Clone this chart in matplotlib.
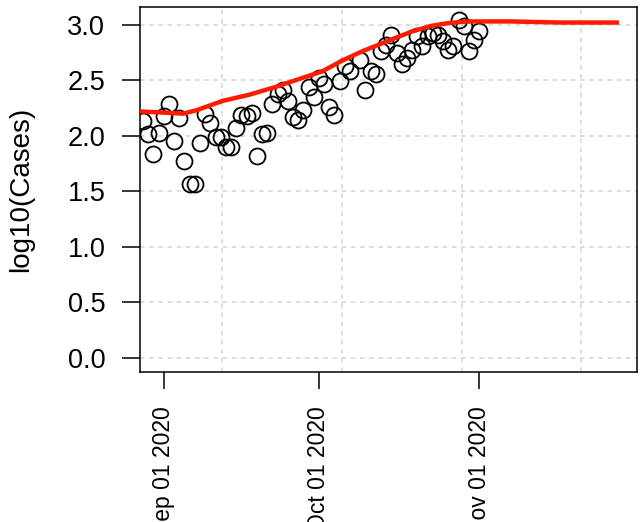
import matplotlib
matplotlib.use("Agg")
import matplotlib.pyplot as plt
import datetime as dt

plt.rcParams['font.family'] = ['Liberation Sans', 'DejaVu Sans']

base = dt.datetime(2020, 9, 1)

# observed points: day offset from Sep 01 2020, log10(cases)
point_days = [-4, -3, -2, -1, 0, 1, 2, 3, 4, 5, 6, 7, 8, 9, 10, 11, 12, 13, 14, 15,
              16, 17, 18, 19, 20, 21, 22, 23, 24, 25, 26, 27, 28, 29, 30, 31, 32, 33,
              34, 35, 36, 38, 39, 40, 41, 42, 43, 44, 45, 46, 47, 48, 49, 50, 51, 52,
              53, 54, 55, 56, 57, 58, 59, 60, 61]
point_vals = [2.13, 2.02, 1.84, 2.03, 2.18, 2.29, 1.955, 2.16, 1.77, 1.57, 1.57, 1.94,
              2.20, 2.12, 1.99, 1.99, 1.90, 1.90, 2.07, 2.19, 2.18, 2.21, 1.82, 2.02,
              2.03, 2.29, 2.38, 2.41, 2.31, 2.17, 2.14, 2.23, 2.44, 2.35, 2.52, 2.47,
              2.26, 2.19, 2.49, 2.63, 2.58, 2.68, 2.41, 2.58, 2.56, 2.76, 2.82, 2.91,
              2.745, 2.645, 2.70, 2.775, 2.90, 2.81, 2.90, 2.93, 2.91, 2.85, 2.77, 2.81,
              3.04, 2.99, 2.76, 2.865, 2.94]

# fitted curve knots
fit_days = [-4.6, 3.7, 6.3, 11.4, 16.5, 21.6, 26.7, 30.6, 34.4, 38.3, 41.5, 44.7,
            48.0, 51.7, 55.0, 58.7, 67.0, 76.6, 88.0]
fit_vals = [2.22, 2.20, 2.23, 2.315, 2.37, 2.44, 2.52, 2.58, 2.675, 2.76, 2.82, 2.88,
            2.94, 2.99, 3.015, 3.03, 3.03, 3.02, 3.02]

xtick_labels = ["Sep 01 2020", "Oct 01 2020", "Nov 01 2020"]
xtick_dates = [dt.datetime(2020, 9, 1), dt.datetime(2020, 10, 1), dt.datetime(2020, 11, 1)]
yticks = [0.0, 0.5, 1.0, 1.5, 2.0, 2.5, 3.0]
grid_days = [11.3, 34.45, 57.6, 80.75]

def todate(d):
    return base + dt.timedelta(days=d)

px = [todate(d) for d in point_days]
fx = [todate(d) for d in fit_days]

fig = plt.figure(figsize=(6.4, 5.22), dpi=100)
ax = fig.add_axes([140/640, 150/522, 497/640, 365/522])

for g in grid_days:
    ax.axvline(todate(g), color='#d3d3d3', lw=1.1, ls=(0, (3, 3)), zorder=0)
for y in yticks:
    ax.axhline(y, color='#d3d3d3', lw=1.1, ls=(0, (3, 3)), zorder=0)

ax.plot(px, point_vals, linestyle='none', marker='o', markersize=11.5,
        markerfacecolor='none', markeredgecolor='black', markeredgewidth=1.3, zorder=2)
ax.plot(fx, fit_vals, color='#ff1a00', lw=3.2, zorder=3, solid_capstyle='butt')

ax.set_xlim(todate(-4.6), todate(91.5))
ax.set_ylim(-0.126, 3.16)

ax.set_yticks(yticks)
ax.set_yticklabels([f"{v:.1f}" for v in yticks], fontsize=19.5)
ax.set_xticks(xtick_dates)
ax.set_xticklabels(xtick_labels, rotation=90, fontsize=16.5, va='top', ha='center')
ax.tick_params(axis='y', length=13, width=1.1, pad=12)
ax.tick_params(axis='x', length=12, width=1.1, pad=13)
ax.set_ylabel("log10(Cases)", fontsize=20)
ax.yaxis.set_label_coords(-106/497, 0.5)
for s in ax.spines.values():
    s.set_linewidth(1.1)

fig.savefig("out.png", dpi=100)
